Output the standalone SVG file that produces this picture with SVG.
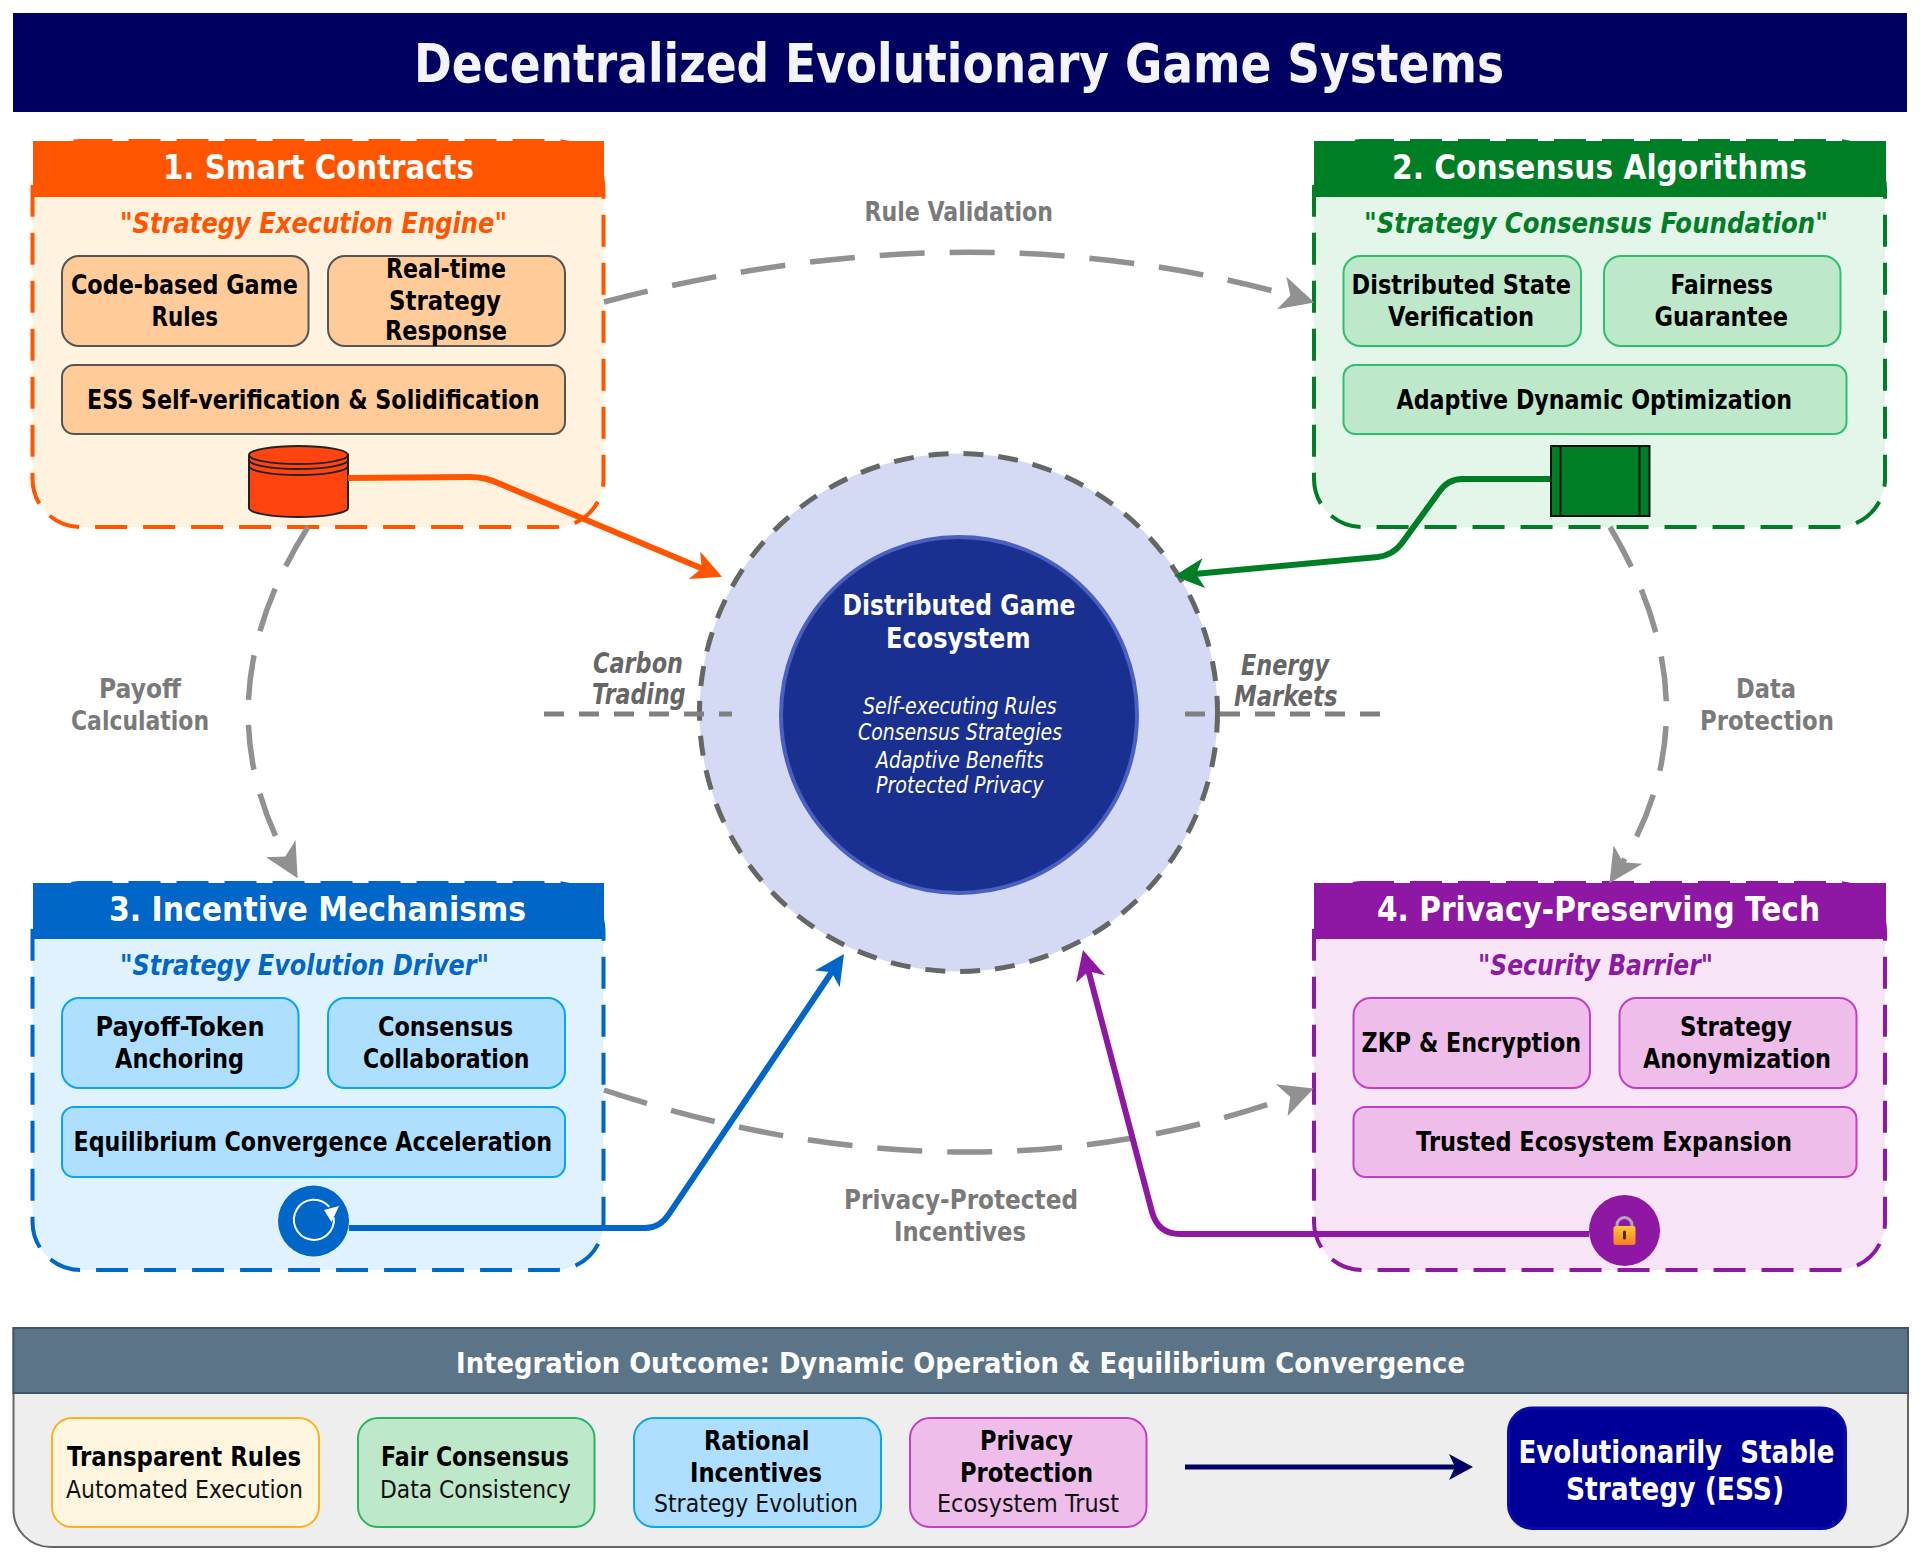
<svg xmlns="http://www.w3.org/2000/svg" width="1920" height="1561" viewBox="0 0 1920 1561">
<style>
text{font-family:"DejaVu Sans","Liberation Sans",sans-serif;}
.title{font-size:54px;font-weight:700;fill:#f4f4fb;}
.head{font-size:34px;font-weight:700;fill:#fff;}
.tag{font-size:29px;font-weight:700;font-style:italic;}
.item{font-size:26px;font-weight:700;fill:#000;}
.sub{font-size:25px;fill:#111;}
.lab{font-size:26px;font-weight:700;fill:#7a7a7a;}
.labi{font-size:28px;font-weight:700;font-style:italic;fill:#666;}
.ci{font-size:23px;font-style:italic;fill:#fff;}
.cb{font-size:29px;font-weight:700;fill:#fff;}
.panel{stroke-width:4;stroke-dasharray:32 16;}
.box{stroke-width:2;}
.conn{fill:none;stroke-width:6;}
.grey{fill:none;stroke:#919191;stroke-width:5.5;stroke-dasharray:45 25;}
.centerdash{fill:none;stroke:#808080;stroke-width:5;stroke-dasharray:20 15;}
</style>
<defs>
<marker id="mGrey" markerUnits="userSpaceOnUse" viewBox="0 0 30 30" markerWidth="34" markerHeight="34" refX="20" refY="15" orient="auto"><path d="M0 0L30 15L0 30L8 15Z" fill="#919191"/></marker>
<marker id="mOrange" markerUnits="userSpaceOnUse" viewBox="0 0 30 30" markerWidth="30" markerHeight="30" refX="20" refY="15" orient="auto"><path d="M0 0L30 15L0 30L8 15Z" fill="#ff5500"/></marker>
<marker id="mGreen" markerUnits="userSpaceOnUse" viewBox="0 0 30 30" markerWidth="30" markerHeight="30" refX="20" refY="15" orient="auto"><path d="M0 0L30 15L0 30L8 15Z" fill="#007e26"/></marker>
<marker id="mBlue" markerUnits="userSpaceOnUse" viewBox="0 0 30 30" markerWidth="30" markerHeight="30" refX="20" refY="15" orient="auto"><path d="M0 0L30 15L0 30L8 15Z" fill="#0066c8"/></marker>
<marker id="mPurple" markerUnits="userSpaceOnUse" viewBox="0 0 30 30" markerWidth="30" markerHeight="30" refX="20" refY="15" orient="auto"><path d="M0 0L30 15L0 30L8 15Z" fill="#8e18a4"/></marker>
<marker id="mNavy" markerUnits="userSpaceOnUse" viewBox="0 0 24 26" markerWidth="24" markerHeight="26" refX="16" refY="13" orient="auto"><path d="M0 0L24 13L0 26L6 13Z" fill="#000066"/></marker>
<linearGradient id="lockG" x1="0" y1="0" x2="0" y2="1"><stop offset="0" stop-color="#ffc93a"/><stop offset="1" stop-color="#f57c22"/></linearGradient>
</defs>
<rect width="1920" height="1561" fill="#fff"/>

<g id="title-bar">
<rect x="13" y="13" width="1894" height="99" fill="#000060"/>
<text class="title" x="414" y="82" textLength="1090" lengthAdjust="spacingAndGlyphs">Decentralized Evolutionary Game Systems</text>
</g>

<g id="node-smart-contracts">
<rect class="panel" x="32.5" y="141" width="571" height="386" rx="48" fill="#fff3e0" stroke="#ff5500"/>
<rect x="33" y="141" width="571" height="56" fill="#ff5500"/>
<text class="head" x="163" y="179" textLength="311" lengthAdjust="spacingAndGlyphs">1. Smart Contracts</text>
<text class="tag" x="120" y="233" fill="#ff5500" textLength="387" lengthAdjust="spacingAndGlyphs">"Strategy Execution Engine"</text>
<rect class="box" x="62" y="256" width="246.5" height="90" rx="17" fill="#ffcc99" stroke="#555"/>
<rect class="box" x="328" y="256" width="237" height="90" rx="17" fill="#ffcc99" stroke="#555"/>
<rect class="box" x="62" y="365" width="503" height="69" rx="12" fill="#ffcc99" stroke="#555"/>
<text class="item" x="71" y="294" textLength="227" lengthAdjust="spacingAndGlyphs">Code-based Game</text>
<text class="item" x="151.5" y="326" textLength="66.5" lengthAdjust="spacingAndGlyphs">Rules</text>
<text class="item" x="386" y="278" textLength="120" lengthAdjust="spacingAndGlyphs">Real-time</text>
<text class="item" x="389" y="310" textLength="112" lengthAdjust="spacingAndGlyphs">Strategy</text>
<text class="item" x="385" y="340" textLength="122" lengthAdjust="spacingAndGlyphs">Response</text>
<text class="item" x="87" y="409" textLength="452.5" lengthAdjust="spacingAndGlyphs">ESS Self-verification &amp; Solidification</text>
<path d="M249 455V508A49.500 9 0 0 0 348 508V455A49.500 9 0 0 0 249 455Z" fill="#ff4410" stroke="#222" stroke-width="2"/>
<path d="M249 455A49.500 9 0 0 0 348 455M249 460A49.500 9 0 0 0 348 460M249 466A49.500 9 0 0 0 348 466" fill="none" stroke="#222" stroke-width="2"/>
</g>

<g id="node-consensus">
<rect class="panel" x="1314" y="141" width="571" height="386" rx="48" fill="#e4f5e9" stroke="#007e26"/>
<rect x="1314" y="141" width="572" height="56" fill="#007e26"/>
<text class="head" x="1392" y="179" textLength="415" lengthAdjust="spacingAndGlyphs">2. Consensus Algorithms</text>
<text class="tag" x="1364" y="233" fill="#007e26" textLength="464" lengthAdjust="spacingAndGlyphs">"Strategy Consensus Foundation"</text>
<rect class="box" x="1343.500" y="256" width="237.500" height="90" rx="17" fill="#bde8ca" stroke="#2cbf6c"/>
<rect class="box" x="1604" y="256" width="236.500" height="90" rx="17" fill="#bde8ca" stroke="#2cbf6c"/>
<rect class="box" x="1343.500" y="365" width="503" height="69" rx="12" fill="#bde8ca" stroke="#2cbf6c"/>
<text class="item" x="1351.500" y="294" textLength="219.500" lengthAdjust="spacingAndGlyphs">Distributed State</text>
<text class="item" x="1388" y="326" textLength="146" lengthAdjust="spacingAndGlyphs">Verification</text>
<text class="item" x="1670.500" y="294" textLength="102.500" lengthAdjust="spacingAndGlyphs">Fairness</text>
<text class="item" x="1654.500" y="326" textLength="133.500" lengthAdjust="spacingAndGlyphs">Guarantee</text>
<text class="item" x="1396.500" y="409" textLength="395.500" lengthAdjust="spacingAndGlyphs">Adaptive Dynamic Optimization</text>
<rect x="1551" y="446" width="98.500" height="70" fill="#007e26" stroke="#111" stroke-width="2"/>
<path d="M1560.500 446V516M1639.500 446V516" fill="none" stroke="#111" stroke-width="2"/>
</g>

<g id="node-incentive">
<rect class="panel" x="32.5" y="883" width="571" height="387" rx="48" fill="#dff2fe" stroke="#0066c8"/>
<rect x="33" y="883" width="571" height="56" fill="#0066c8"/>
<text class="head" x="109" y="921" textLength="417" lengthAdjust="spacingAndGlyphs">3. Incentive Mechanisms</text>
<text class="tag" x="120" y="975" fill="#0066c8" textLength="369" lengthAdjust="spacingAndGlyphs">"Strategy Evolution Driver"</text>
<rect class="box" x="62" y="998" width="236.500" height="90" rx="17" fill="#aedffe" stroke="#08a5f2"/>
<rect class="box" x="328" y="998" width="237" height="90" rx="17" fill="#aedffe" stroke="#08a5f2"/>
<rect class="box" x="62" y="1107" width="503" height="70" rx="12" fill="#aedffe" stroke="#08a5f2"/>
<text class="item" x="95.500" y="1036" textLength="169" lengthAdjust="spacingAndGlyphs">Payoff-Token</text>
<text class="item" x="115" y="1068" textLength="129" lengthAdjust="spacingAndGlyphs">Anchoring</text>
<text class="item" x="378" y="1036" textLength="135" lengthAdjust="spacingAndGlyphs">Consensus</text>
<text class="item" x="363" y="1068" textLength="166.500" lengthAdjust="spacingAndGlyphs">Collaboration</text>
<text class="item" x="73.500" y="1151" textLength="478.500" lengthAdjust="spacingAndGlyphs">Equilibrium Convergence Acceleration</text>
<circle cx="313.500" cy="1221" r="35.500" fill="#0066c8"/>
<path d="M333 1215A20 20 0 1 1 327 1205" transform="rotate(8 314 1222)" fill="none" stroke="#fff" stroke-width="2"/>
<path d="M324 1210L339 1206L331.500 1222Z" fill="#fff"/>
</g>

<g id="node-privacy">
<rect class="panel" x="1314" y="883" width="571" height="387" rx="48" fill="#f8e6f8" stroke="#8e18a4"/>
<rect x="1314" y="883" width="572" height="56" fill="#8e18a4"/>
<text class="head" x="1377" y="921" textLength="443" lengthAdjust="spacingAndGlyphs">4. Privacy-Preserving Tech</text>
<text class="tag" x="1478" y="975" fill="#8e18a4" textLength="235" lengthAdjust="spacingAndGlyphs">"Security Barrier"</text>
<rect class="box" x="1353.500" y="998" width="236.500" height="90" rx="17" fill="#efbde9" stroke="#c23fc4"/>
<rect class="box" x="1619.500" y="998" width="237" height="90" rx="17" fill="#efbde9" stroke="#c23fc4"/>
<rect class="box" x="1353.500" y="1107" width="503" height="70" rx="12" fill="#efbde9" stroke="#c23fc4"/>
<text class="item" x="1361.500" y="1052" textLength="219.500" lengthAdjust="spacingAndGlyphs">ZKP &amp; Encryption</text>
<text class="item" x="1680" y="1036" textLength="112" lengthAdjust="spacingAndGlyphs">Strategy</text>
<text class="item" x="1643" y="1068" textLength="188" lengthAdjust="spacingAndGlyphs">Anonymization</text>
<text class="item" x="1416" y="1151" textLength="376" lengthAdjust="spacingAndGlyphs">Trusted Ecosystem Expansion</text>
<circle cx="1624.500" cy="1230.500" r="35.500" fill="#8e18a4"/>
<path d="M1617 1227V1225A7.500 7.500 0 0 1 1632 1225V1227" fill="none" stroke="#b0a8b4" stroke-width="3"/>
<rect x="1613.500" y="1226" width="22" height="19" rx="2.500" fill="url(#lockG)"/>
<path d="M1624.500 1232V1238" stroke="#4a2a10" stroke-width="3" stroke-linecap="round"/>
</g>

<g id="node-center">
<circle cx="958.500" cy="712.500" r="259" fill="#d4d9f4" stroke="#666" stroke-width="5" stroke-dasharray="20 15"/>
<circle cx="959" cy="715" r="178" fill="#1a3090" stroke="#4a60c0" stroke-width="4"/>
<text class="cb" x="842.500" y="614.500" textLength="233" lengthAdjust="spacingAndGlyphs">Distributed Game</text>
<text class="cb" x="886" y="648" textLength="144.500" lengthAdjust="spacingAndGlyphs">Ecosystem</text>
<text class="ci" x="863" y="714" textLength="193.500" lengthAdjust="spacingAndGlyphs">Self-executing Rules</text>
<text class="ci" x="858" y="740" textLength="204" lengthAdjust="spacingAndGlyphs">Consensus Strategies</text>
<text class="ci" x="876" y="767.500" textLength="167.500" lengthAdjust="spacingAndGlyphs">Adaptive Benefits</text>
<text class="ci" x="876" y="793" textLength="167.500" lengthAdjust="spacingAndGlyphs">Protected Privacy</text>
</g>

<g id="connectors">
<path class="grey" d="M604 302Q975 204 1303.400 299.300" marker-end="url(#mGrey)"/>
<path class="grey" d="M308 527Q197 702 292 868.400" marker-end="url(#mGrey)"/>
<path class="grey" d="M1610 527Q1720 712 1615.600 873.700" marker-end="url(#mGrey)"/>
<path class="grey" d="M604 1090Q975 1213 1303 1092.300" marker-end="url(#mGrey)"/>
<path class="centerdash" d="M544 714H732"/>
<path class="centerdash" d="M1185 714H1381"/>
<path class="conn" stroke="#ff5500" d="M348 478L470 477Q485 477 498 483L712.800 573" marker-end="url(#mOrange)"/>
<path class="conn" stroke="#007e26" d="M1550 479H1462Q1448 479 1439 492L1402 543Q1393 555 1378 557L1184 575" marker-end="url(#mGreen)"/>
<path class="conn" stroke="#0066c8" d="M349 1228H645Q660 1228 669 1214L838.400 962.300" marker-end="url(#mBlue)"/>
<path class="conn" stroke="#8e18a4" d="M1589 1234H1180Q1158 1234 1152 1212L1085.500 959.700" marker-end="url(#mPurple)"/>
</g>

<g id="edge-labels">
<text class="lab" x="864.500" y="220.500" textLength="188.500" lengthAdjust="spacingAndGlyphs">Rule Validation</text>
<text class="lab" x="99" y="698" textLength="82" lengthAdjust="spacingAndGlyphs">Payoff</text>
<text class="lab" x="71" y="730" textLength="138" lengthAdjust="spacingAndGlyphs">Calculation</text>
<text class="lab" x="1736" y="698" textLength="60" lengthAdjust="spacingAndGlyphs">Data</text>
<text class="lab" x="1700" y="730" textLength="134" lengthAdjust="spacingAndGlyphs">Protection</text>
<text class="lab" x="844" y="1209" textLength="234" lengthAdjust="spacingAndGlyphs">Privacy-Protected</text>
<text class="lab" x="894" y="1241" textLength="132" lengthAdjust="spacingAndGlyphs">Incentives</text>
<text class="labi" x="593" y="673" textLength="90" lengthAdjust="spacingAndGlyphs">Carbon</text>
<text class="labi" x="592" y="704" textLength="93.500" lengthAdjust="spacingAndGlyphs">Trading</text>
<text class="labi" x="1241" y="675" textLength="88" lengthAdjust="spacingAndGlyphs">Energy</text>
<text class="labi" x="1234" y="706" textLength="103.500" lengthAdjust="spacingAndGlyphs">Markets</text>
</g>

<g id="node-outcome">
<path d="M13.500 1328H1908V1510A37 37 0 0 1 1871 1547H50.500A37 37 0 0 1 13.500 1510Z" fill="#eeeeee" stroke="#666" stroke-width="2"/>
<rect x="13.500" y="1328" width="1894.500" height="65" fill="#5c7488" stroke="#3f566a" stroke-width="2"/>
<text x="456" y="1373" font-size="29" font-weight="700" fill="#fff" textLength="1009" lengthAdjust="spacingAndGlyphs">Integration Outcome: Dynamic Operation &amp; Equilibrium Convergence</text>
</g>
<g id="node-transparent">
<rect class="box" x="52" y="1418" width="267" height="109" rx="20" fill="#fff6e0" stroke="#ffb020"/>
<text class="item" x="67" y="1466" textLength="234" lengthAdjust="spacingAndGlyphs">Transparent Rules</text>
<text class="sub" x="66" y="1498" textLength="237" lengthAdjust="spacingAndGlyphs">Automated Execution</text>
</g>
<g id="node-fair">
<rect class="box" x="358" y="1418" width="236.500" height="109" rx="20" fill="#bde8ca" stroke="#2cb560"/>
<text class="item" x="381" y="1466" textLength="188" lengthAdjust="spacingAndGlyphs">Fair Consensus</text>
<text class="sub" x="380" y="1498" textLength="191" lengthAdjust="spacingAndGlyphs">Data Consistency</text>
</g>
<g id="node-rational">
<rect class="box" x="634" y="1418" width="247" height="109" rx="20" fill="#aedffe" stroke="#08a5f2"/>
<text class="item" x="704" y="1450" textLength="105.500" lengthAdjust="spacingAndGlyphs">Rational</text>
<text class="item" x="690" y="1482" textLength="132" lengthAdjust="spacingAndGlyphs">Incentives</text>
<text class="sub" x="654" y="1512" textLength="204" lengthAdjust="spacingAndGlyphs">Strategy Evolution</text>
</g>
<g id="node-protection">
<rect class="box" x="910" y="1418" width="236.500" height="109" rx="20" fill="#efbde9" stroke="#c23fc4"/>
<text class="item" x="980" y="1450" textLength="93" lengthAdjust="spacingAndGlyphs">Privacy</text>
<text class="item" x="960" y="1482" textLength="133" lengthAdjust="spacingAndGlyphs">Protection</text>
<text class="sub" x="937" y="1512" textLength="182" lengthAdjust="spacingAndGlyphs">Ecosystem Trust</text>
</g>
<g id="outcome-connector">
<path d="M1185 1467H1465" fill="none" stroke="#000066" stroke-width="5" marker-end="url(#mNavy)"/>
</g>
<g id="node-ess">
<rect x="1508.500" y="1408" width="337" height="120.500" rx="24" fill="#000099" stroke="#0a0aa8" stroke-width="3"/>
<text x="1518.500" y="1463" font-size="32" font-weight="700" fill="#fff" textLength="316" lengthAdjust="spacingAndGlyphs" xml:space="preserve">Evolutionarily  Stable</text>
<text x="1566" y="1500" font-size="32" font-weight="700" fill="#fff" textLength="218" lengthAdjust="spacingAndGlyphs">Strategy (ESS)</text>
</g>
</svg>
